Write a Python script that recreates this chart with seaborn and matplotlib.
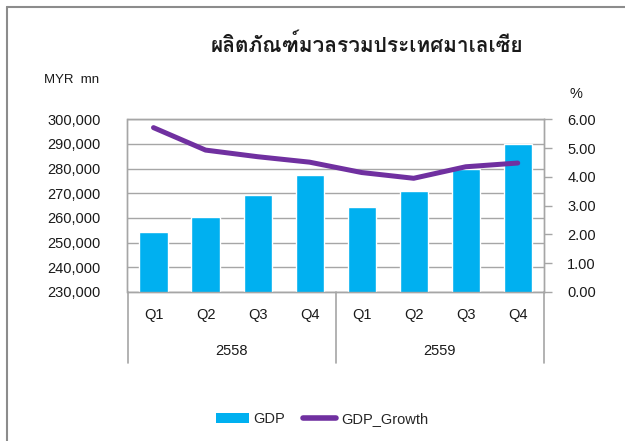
import numpy as np
import pandas as pd
import matplotlib
matplotlib.use("Agg")
import matplotlib.pyplot as plt
import seaborn as sns
from matplotlib import font_manager as fm
from matplotlib.ft2font import FT2Font
from matplotlib.lines import Line2D
from matplotlib.patches import Patch

# ---- data ----
years = ["2558", "2559"]
quarters = ["Q1", "Q2", "Q3", "Q4"]
gdp = [254200, 260400, 269300, 277600, 264500, 270800, 280000, 290000]
gdp_growth = [5.71, 4.93, 4.70, 4.51, 4.15, 3.95, 4.35, 4.48]
left_ticks = [230000, 240000, 250000, 260000, 270000, 280000, 290000, 300000]
right_ticks = [0, 1, 2, 3, 4, 5, 6]
title = "ผลิตภัณฑ์มวลรวมประเทศมาเลเซีย"

keys = [f"{y}-{q}" for y in years for q in quarters]
df = pd.DataFrame({"key": keys, "GDP": gdp, "GDP_Growth": gdp_growth})


def pick_thai_font():
    names = set()
    seen = set()
    for f in fm.fontManager.ttflist:
        if f.fname in seen:
            continue
        seen.add(f.fname)
        try:
            cm = FT2Font(f.fname).get_charmap()
            if 0x0E1C in cm and 0x0E25 in cm:
                names.add(f.name)
        except Exception:
            pass
    for pref in ["Loma", "Noto Sans Thai Looped", "IBM Plex Sans Thai Looped",
                 "Sarabun", "Noto Sans Thai"]:
        if pref in names:
            return pref
    return sorted(names)[0] if names else "DejaVu Sans"


thai_font = pick_thai_font()

sns.set_style("white")
plt.rcParams["font.family"] = ["Liberation Sans", "DejaVu Sans"]

fig = plt.figure(figsize=(6.25, 4.41), dpi=100)
ax = fig.add_axes([0.204, 0.338, 0.666, 0.3915])

grid_c = "#A6A6A6"
text_c = "#1a1a1a"

sns.barplot(data=df, x="key", y="GDP", color="#00B0F0", width=0.54,
            saturation=1, ax=ax, zorder=3)
ax.set_ylim(230000, 300000)
ax.set_yticks(left_ticks)
ax.set_yticklabels([f"{v:,}" for v in left_ticks], fontsize=10.5, color=text_c)
ax.tick_params(axis="y", length=0, pad=19.5)
ax.yaxis.grid(True, color=grid_c, lw=1, zorder=0)
ax.set_axisbelow(True)
ax.set_xlabel("")
ax.set_ylabel("")
ax.set_xticks(range(len(keys)))
ax.set_xticklabels([])
ax.tick_params(axis="x", length=0)
ax.set_xlim(-0.5, len(keys) - 0.5)
for s in ax.spines.values():
    s.set_color(grid_c)
    s.set_linewidth(1)

ax2 = ax.twinx()
sns.lineplot(data=df, x="key", y="GDP_Growth", color="#7030A0", lw=3.6,
             ax=ax2, sort=False, solid_capstyle="round", zorder=5)
ax2.set_ylim(0, 6)
ax2.set_yticks(right_ticks)
ax2.set_yticklabels([f"{v:.2f}" for v in right_ticks], fontsize=10.5, color=text_c)
ax2.tick_params(axis="y", length=6, width=1, color=grid_c, pad=11, direction="out")
ax2.set_ylabel("")
ax2.set_xlabel("")
for s in ax2.spines.values():
    s.set_color(grid_c)
    s.set_linewidth(1)

# multi-level category labels
trans = ax.get_xaxis_transform()
for i, k in enumerate(keys):
    ax.text(i, -0.133, k.split("-")[1], transform=trans, ha="center", va="center",
            fontsize=10.5, color=text_c)
for j, y in enumerate(years):
    ax.text(j * 4 + 1.5, -0.34, y, transform=trans, ha="center", va="center",
            fontsize=10.5, color=text_c)
for xv in [-0.5, 3.5, 7.5]:
    ax.plot([xv, xv], [0, -0.41], transform=trans, color=grid_c, lw=1.2,
            clip_on=False)

# titles / axis captions
fig.text(0.5865, 0.898, title, ha="center", va="center", fontsize=15,
         fontweight="bold", family=[thai_font, "DejaVu Sans"], color=text_c)
fig.text(0.0705, 0.818, "MYR  mn", ha="left", va="center", fontsize=9.5, color=text_c)
fig.text(0.922, 0.787, "%", ha="center", va="center", fontsize=10.5, color=text_c)

# legend
handles = [Patch(facecolor="#00B0F0", edgecolor="none"),
           Line2D([0], [0], color="#7030A0", lw=4, solid_capstyle="round")]
fig.legend(handles, ["GDP", "GDP_Growth"], loc="center", bbox_to_anchor=(0.515, 0.05),
           ncol=2, frameon=False, fontsize=10.5, handlelength=2.3, handletextpad=0.3,
           columnspacing=1.2)

# outer frame
fig.add_artist(Line2D([0.011, 0.011], [0, 0.985], transform=fig.transFigure,
                      color="#8c8c8c", lw=1.5))
fig.add_artist(Line2D([0.011, 1.0], [0.985, 0.985], transform=fig.transFigure,
                      color="#8c8c8c", lw=1.5))

fig.savefig("out.png", dpi=100)
